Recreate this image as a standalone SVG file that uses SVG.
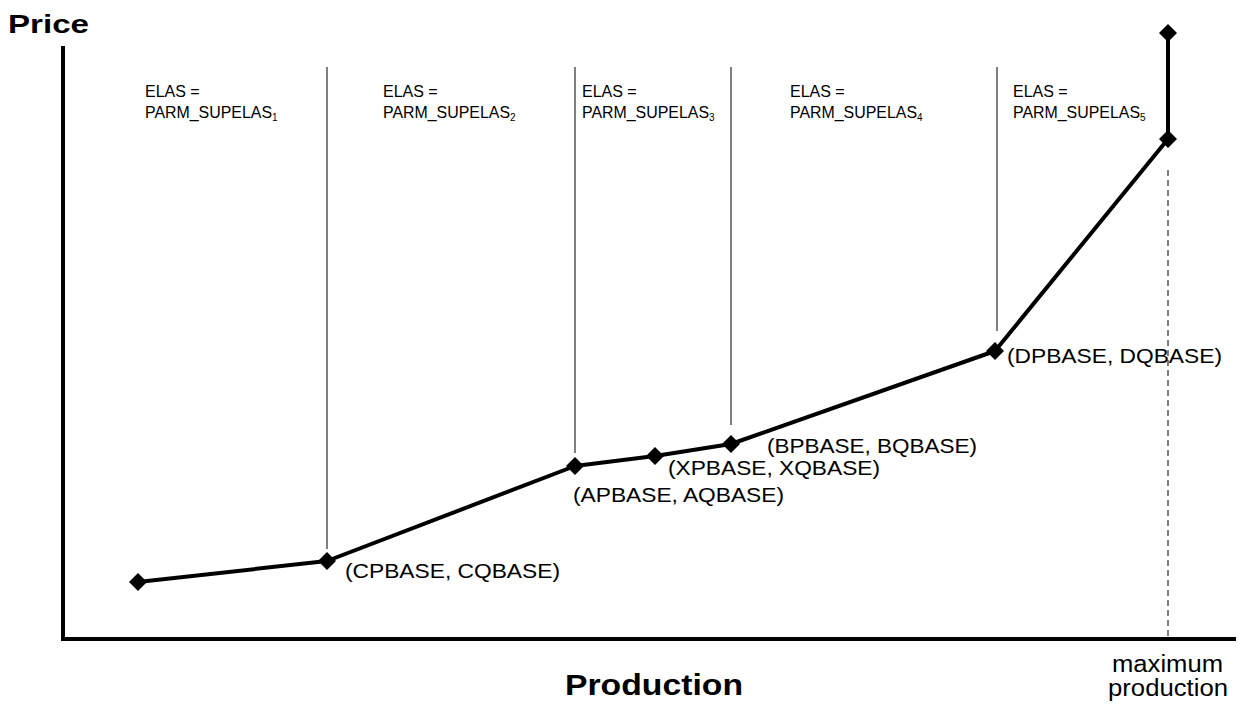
<svg xmlns="http://www.w3.org/2000/svg" width="1244" height="711" viewBox="0 0 1244 711">
<style>
.axis{stroke:#000;stroke-width:4;fill:none}
.div{stroke:#000;stroke-width:1;fill:none}
.dash{stroke:#000;stroke-width:1;stroke-dasharray:6,4;fill:none}
.curve{stroke:#000;stroke-width:4;fill:none;stroke-linejoin:round}
.el{font-family:"Liberation Sans",Arial,sans-serif;font-size:16px;fill:#000}
.sub{font-size:10px}
.pt{font-family:"Liberation Sans",Arial,sans-serif;font-size:21px;fill:#000}
.ax{font-family:"Liberation Sans",Arial,sans-serif;font-weight:bold;fill:#000}
.mx{font-family:"Liberation Sans",Arial,sans-serif;font-size:23px;fill:#000}
</style>
<defs>
<path id="dm" d="M0,-9 L9,0 L0,9 L-9,0 Z" fill="#000"/>
</defs>
<rect width="1244" height="711" fill="#fff"/>
<g id="axes">
<line class="axis" x1="63" y1="46" x2="63" y2="641"/>
<line class="axis" x1="61" y1="639" x2="1236" y2="639"/>
<text class="ax" x="8" y="33" font-size="26" textLength="81" lengthAdjust="spacingAndGlyphs">Price</text>
<text class="ax" x="565" y="695" font-size="30" textLength="178" lengthAdjust="spacingAndGlyphs">Production</text>
<text class="mx" x="1112" y="672" textLength="111" lengthAdjust="spacingAndGlyphs">maximum</text>
<text class="mx" x="1108" y="696" textLength="120" lengthAdjust="spacingAndGlyphs">production</text>
</g>
<g id="dividers">
<line class="div" x1="327" y1="67" x2="327" y2="549"/>
<line class="div" x1="575" y1="67" x2="575" y2="453"/>
<line class="div" x1="731" y1="67" x2="731" y2="425"/>
<line class="div" x1="997" y1="67" x2="997" y2="331"/>
<line class="dash" x1="1168" y1="170" x2="1168" y2="639"/>
</g>
<g id="labels">
<text class="el" x="145" y="97">ELAS =</text>
<text class="el" x="145" y="118"><tspan textLength="127" lengthAdjust="spacingAndGlyphs">PARM_SUPELAS</tspan><tspan class="sub" dy="3">1</tspan></text>
<text class="el" x="383" y="97">ELAS =</text>
<text class="el" x="383" y="118"><tspan textLength="127" lengthAdjust="spacingAndGlyphs">PARM_SUPELAS</tspan><tspan class="sub" dy="3">2</tspan></text>
<text class="el" x="582" y="97">ELAS =</text>
<text class="el" x="582" y="118"><tspan textLength="127" lengthAdjust="spacingAndGlyphs">PARM_SUPELAS</tspan><tspan class="sub" dy="3">3</tspan></text>
<text class="el" x="790" y="97">ELAS =</text>
<text class="el" x="790" y="118"><tspan textLength="127" lengthAdjust="spacingAndGlyphs">PARM_SUPELAS</tspan><tspan class="sub" dy="3">4</tspan></text>
<text class="el" x="1013" y="97">ELAS =</text>
<text class="el" x="1013" y="118"><tspan textLength="127" lengthAdjust="spacingAndGlyphs">PARM_SUPELAS</tspan><tspan class="sub" dy="3">5</tspan></text>
</g>
<g id="connectors">
<polyline class="curve" points="138,582 327,561 575,466 655,456 731,444 995,351 1168,139 1168,33"/>
</g>
<g id="node-p0"><use href="#dm" x="138" y="582"/></g>
<g id="node-c"><use href="#dm" x="327" y="561"/><text class="pt" x="345" y="578" textLength="215" lengthAdjust="spacingAndGlyphs">(CPBASE, CQBASE)</text></g>
<g id="node-a"><use href="#dm" x="575" y="466"/><text class="pt" x="573" y="502" textLength="211" lengthAdjust="spacingAndGlyphs">(APBASE, AQBASE)</text></g>
<g id="node-x"><use href="#dm" x="655" y="456"/><text class="pt" x="668" y="475" textLength="212" lengthAdjust="spacingAndGlyphs">(XPBASE, XQBASE)</text></g>
<g id="node-b"><use href="#dm" x="731" y="444"/><text class="pt" x="767" y="453" textLength="210" lengthAdjust="spacingAndGlyphs">(BPBASE, BQBASE)</text></g>
<g id="node-d"><use href="#dm" x="995" y="351"/><text class="pt" x="1007" y="363" textLength="215" lengthAdjust="spacingAndGlyphs">(DPBASE, DQBASE)</text></g>
<g id="node-max"><use href="#dm" x="1168" y="139"/></g>
<g id="node-top"><use href="#dm" x="1168" y="33"/></g>
</svg>
